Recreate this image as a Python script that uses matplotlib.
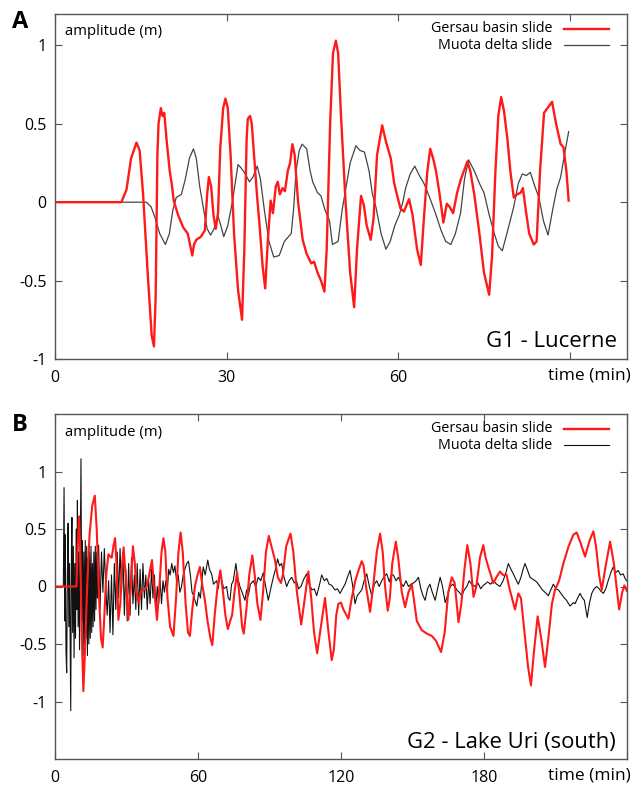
import matplotlib
matplotlib.use("Agg")
import matplotlib.pyplot as plt

plt.rcParams['font.family'] = ['Open Sans', 'DejaVu Sans']

# ---------------- Panel A : G1 - Lucerne ----------------
a_gersau_t = [0, 11.6, 12.5, 13.3, 14.25, 14.8, 15.4, 16.2, 16.9, 17.3, 17.6, 17.9, 18.1, 18.5, 18.8, 19.1,
              19.5, 20.05, 20.4, 20.75, 21.5, 22.4, 23.2, 24.0, 24.3, 24.7, 25.5, 26.2, 26.6, 26.9, 27.3,
              27.7, 28.1, 28.5, 28.9, 29.4, 29.8, 30.2, 30.7, 31.3, 32.0, 32.7, 33.1, 33.5, 33.7, 34.1,
              34.4, 34.8, 35.3, 35.75, 36.3, 36.75, 37.2, 37.7, 38.1, 38.6, 38.95, 39.3, 39.8, 40.2, 40.7,
              41.1, 41.5, 41.9, 42.5, 43.3, 44.0, 44.8, 45.3, 45.9, 46.5, 47.1, 47.5, 48.1, 48.6, 49.1,
              49.5, 50.0, 50.8, 51.6, 52.3, 52.8, 53.5, 54.0, 54.5, 55.2, 55.7, 56.3, 57.2, 57.9, 58.7,
              59.3, 59.9, 60.4, 61.0, 61.9, 62.5, 63.3, 63.95, 64.5, 65.1, 65.6, 66.1, 66.6, 67.2, 67.9,
              68.5, 69.0, 69.6, 70.3, 70.9, 71.5, 72.1, 72.6, 73.3, 74.2, 75.0, 75.9, 76.4, 77.0, 77.5,
              78.0, 78.5, 79.1, 79.6, 80.2, 80.8, 81.4, 81.8, 82.3, 82.9, 83.7, 84.2, 84.8, 85.5, 86.1,
              86.9, 87.6, 88.4, 88.9, 89.4, 89.8]
a_gersau_v = [0, 0, 0.08, 0.28, 0.38, 0.33, 0.05, -0.45, -0.85, -0.92, -0.6, 0.3, 0.5, 0.6, 0.55, 0.57,
              0.4, 0.2, 0.12, 0.01, -0.08, -0.16, -0.2, -0.34, -0.27, -0.24, -0.22, -0.18, 0.05, 0.16, 0.1,
              -0.08, -0.17, -0.07, 0.35, 0.6, 0.66, 0.6, 0.3, -0.2, -0.56, -0.75, -0.3, 0.4, 0.53, 0.55,
              0.5, 0.3, 0.05, -0.14, -0.41, -0.55, -0.25, 0.01, -0.07, 0.1, 0.13, 0.05, 0.09, 0.07, 0.2,
              0.25, 0.37, 0.3, 0.0, -0.24, -0.33, -0.39, -0.38, -0.45, -0.5, -0.57, -0.3, 0.5, 0.95, 1.03,
              0.95, 0.55, 0.0, -0.45, -0.67, -0.3, 0.04, -0.02, -0.15, -0.24, -0.1, 0.3, 0.49, 0.38, 0.28,
              0.12, 0.03, -0.04, -0.06, 0.02, -0.08, -0.3, -0.40, -0.1, 0.2, 0.34, 0.28, 0.2, 0.06, -0.13,
              -0.01, -0.03, -0.07, 0.06, 0.14, 0.2, 0.26, 0.2, 0.05, -0.2, -0.45, -0.59, -0.35, 0.2, 0.55,
              0.67, 0.58, 0.40, 0.2, 0.03, 0.05, 0.06, 0.09, -0.05, -0.2, -0.27, -0.25, 0.2, 0.57, 0.6,
              0.64, 0.5, 0.37, 0.35, 0.2, 0.01]

a_muota_t = [0, 16.0, 16.8, 17.5, 18.3, 19.3, 20.0, 20.6, 21.2, 22.1, 22.8, 23.5, 24.2, 24.7, 25.3, 26.0,
             26.6, 27.2, 27.8, 28.5, 29.0, 29.5, 30.2, 31.0, 31.5, 32.0, 32.5, 33.1, 34.0, 34.6, 35.35,
             35.9, 36.6, 37.4, 38.25, 39.2, 40.1, 41.3, 41.7, 42.15, 42.7, 43.2, 44.0, 44.6, 45.05, 45.9,
             46.5, 47.2, 48.0, 48.5, 49.0, 49.5, 50.2, 50.9, 51.6, 52.6, 53.3, 54.1, 54.9, 55.5, 56.1,
             57.0, 57.85, 58.6, 59.4, 60.2, 60.8, 61.3, 62.1, 62.9, 63.7, 64.5, 65.5, 66.6, 67.5, 68.3,
             69.2, 70.0, 70.9, 71.6, 72.3, 73.3, 74.2, 75.0, 75.9, 76.8, 77.5, 78.2, 79.0, 80.2, 81.0,
             81.7, 82.4, 83.1, 83.9, 84.6, 85.4, 86.2, 87.0, 87.7, 88.4, 89.2, 89.8]
a_muota_v = [0, 0, -0.03, -0.1, -0.2, -0.27, -0.2, -0.05, 0.03, 0.05, 0.15, 0.28, 0.34, 0.28, 0.1, -0.05,
             -0.17, -0.21, -0.17, -0.09, -0.15, -0.22, -0.15, 0.0, 0.12, 0.24, 0.22, 0.19, 0.13, 0.16, 0.23,
             0.15, -0.05, -0.25, -0.35, -0.34, -0.25, -0.2, -0.05, 0.2, 0.33, 0.37, 0.34, 0.2, 0.13, 0.06,
             0.04, -0.05, -0.12, -0.27, -0.26, -0.25, -0.05, 0.1, 0.25, 0.36, 0.33, 0.32, 0.2, 0.05, -0.03,
             -0.2, -0.3, -0.25, -0.15, -0.08, 0.0, 0.09, 0.18, 0.23, 0.17, 0.12, 0.03, -0.08, -0.18, -0.25,
             -0.27, -0.2, -0.07, 0.15, 0.27, 0.2, 0.12, 0.06, -0.08, -0.2, -0.28, -0.31, -0.2, -0.03, 0.12,
             0.18, 0.17, 0.19, 0.1, 0.03, -0.12, -0.21, -0.05, 0.08, 0.16, 0.33, 0.45]

# ---------------- Panel B : G2 - Lake Uri (south) ----------------
b_gersau_t = [0, 9.0, 9.4, 10.1, 10.6, 11.2, 11.9, 12.5, 13.5, 14.5, 15.6, 16.7, 17.5, 18.5, 19.3, 20.0,
              20.6, 21.5, 22.4, 23.2, 23.8, 24.5, 25.2, 25.8, 26.6, 27.4, 28.2, 28.8, 29.6, 30.8, 31.6,
              32.7, 33.5, 34.2, 35.1, 36.0, 37.2, 38.5, 39.5, 40.7, 41.7, 42.8, 43.8, 44.7, 45.5, 46.3,
              47.2, 48.3, 49.7, 50.8, 51.8, 52.7, 53.6, 54.8, 55.8, 56.6, 57.6, 58.7, 59.8, 60.8, 61.9,
              62.9, 64.0, 65.2, 66.0, 67.0, 68.2, 69.4, 70.5, 71.5, 72.5, 73.5, 74.3, 75.3, 76.4, 77.5,
              78.5, 79.2, 80.3, 81.5, 82.8, 83.8, 84.9, 86.2, 87.3, 88.5, 89.7, 90.8, 92.3, 93.5, 94.8,
              95.6, 97.0, 98.8, 100.0, 101.5, 103.3, 104.5, 106.3, 107.5, 108.7, 110.0, 111.2, 113.3,
              114.5, 116.1, 117.0, 118.0, 118.9, 120.0, 121.0, 123.1, 124.5, 126.0, 127.5, 128.7, 129.5,
              130.5, 132.2, 133.5, 135.0, 136.4, 137.5, 138.5, 139.6, 140.5, 141.5, 143.0, 144.0, 145.5,
              146.9, 148.3, 149.7, 150.8, 151.8, 153.9, 156.0, 158.1, 159.8, 162.0, 163.5, 165.0, 166.5,
              167.7, 169.3, 170.5, 171.8, 173.0, 174.3, 175.6, 176.8, 178.3, 179.7, 180.7, 181.8, 183.9,
              185.2, 186.7, 188.0, 189.5, 190.5, 191.6, 193.0, 194.4, 195.5, 197.0, 198.5, 199.7, 200.8,
              202.5, 204.0, 205.6, 207.0, 208.5, 209.8, 211.5, 213.3, 215.5, 217.5, 218.9, 220.5, 222.4,
              224.3, 225.9, 227.0, 228.3, 229.4, 230.8, 232.9, 234.5, 236.7, 238.0, 238.9, 239.5, 240.0]
b_gersau_v = [0, 0, 0.3, 0.61, 0.3, -0.4, -0.91, -0.6, 0.0, 0.45, 0.7, 0.79, 0.5, -0.1, -0.45, -0.53,
              -0.3, 0.1, 0.28, 0.26, 0.25, 0.35, 0.42, 0.2, -0.29, -0.15, 0.2, 0.34, 0.1, -0.29, -0.05,
              0.35, 0.2, -0.05, -0.14, -0.05, -0.03, 0.0, 0.1, 0.23, -0.05, -0.29, 0.0, 0.3, 0.42, 0.3,
              -0.1, -0.35, -0.43, -0.1, 0.3, 0.47, 0.3, -0.15, -0.4, -0.43, -0.2, 0.0, 0.1, 0.17, 0.0,
              -0.12, -0.3, -0.45, -0.51, -0.25, 0.0, 0.14, -0.05, -0.25, -0.37, -0.3, -0.25, -0.05, 0.12, -0.1,
              -0.35, -0.41, -0.2, 0.1, 0.27, 0.1, -0.15, -0.29, -0.05, 0.3, 0.44, 0.35, 0.23, 0.08, 0.03,
              0.1, 0.35, 0.46, 0.3, -0.05, -0.33, -0.15, 0.13, -0.1, -0.4, -0.58, -0.4, -0.1,
              -0.35, -0.64, -0.55, -0.25, -0.15, -0.14, -0.2, -0.28, -0.1, 0.05, 0.15, 0.22, 0.18,
              0.0, -0.22, 0.0, 0.3, 0.46, 0.3, 0.0, -0.21, -0.1, 0.2, 0.39, 0.25, -0.05,
              -0.18, -0.05, 0.02, -0.15, -0.30, -0.38, -0.41, -0.43, -0.47, -0.57, -0.4, -0.05, 0.08,
              0.03, -0.31, -0.15, 0.15, 0.36, 0.2, -0.09, 0.0, 0.25, 0.36, 0.25, 0.17, 0.03,
              0.08, 0.13, 0.1, 0.1, 0.0, -0.09, -0.2, -0.06, -0.1, -0.4, -0.7, -0.86, -0.6,
              -0.26, -0.45, -0.7, -0.45, -0.15, -0.03, 0.05, 0.2, 0.35, 0.45, 0.47, 0.38, 0.26,
              0.4, 0.48, 0.35, 0.1, -0.03, 0.15, 0.39, 0.2, -0.2, -0.05, 0.01, -0.02, -0.04]

b_muota_t = [0, 3.5, 3.8, 4.1, 4.3, 4.6, 4.9, 5.2, 5.5, 5.8, 6.1, 6.4, 6.6, 6.9, 7.1, 7.4, 7.7, 8.0, 8.3,
             8.6, 8.9, 9.2, 9.4, 9.7, 10.0, 10.3, 10.6, 10.9, 11.2, 11.5, 11.8, 12.1, 12.4, 12.7, 13.0,
             13.3, 13.6, 13.9, 14.2, 14.5, 14.8, 15.1, 15.4, 15.7, 16.0, 16.3, 16.6, 16.9, 17.2, 17.5,
             17.8, 18.3, 18.9, 19.5, 20.1, 20.7, 21.3, 21.9, 22.5, 23.1, 23.7, 24.3, 24.9, 25.5, 26.1,
             26.7, 27.3, 27.9, 28.5, 29.1, 29.7, 30.3, 30.9, 31.5, 32.1, 32.7, 33.3, 33.9, 34.5, 35.1,
             35.7, 36.3, 36.9, 37.5, 38.1, 38.7, 39.3, 39.9, 40.5, 41.1, 41.7, 42.3, 42.9, 43.5, 44.1,
             44.7, 45.3, 45.9, 46.5, 47.1, 47.7, 48.3, 49.0, 49.7, 50.3, 51.0, 51.7, 52.4, 53.1, 53.8,
             54.5, 55.3, 56.0, 56.8, 57.5, 58.2, 58.7, 59.5, 60.3, 61.0, 61.6, 62.2, 63.0, 64.1, 64.8,
             65.7, 66.5, 67.8, 68.5, 69.2, 70.0, 70.8, 72.0, 72.7, 73.4, 74.1, 74.8, 75.9, 76.6, 77.6,
             78.5, 79.7, 80.4, 81.1, 82.0, 83.2, 84.2, 85.3, 86.3, 87.4, 88.4, 89.5, 90.5, 91.6, 92.5,
             93.4, 94.2, 95.1, 96.1, 97.2, 98.2, 99.3, 100.4, 101.3, 102.2, 103.2, 104.3, 105.6, 106.7,
             107.8, 108.8, 109.8, 110.8, 111.9, 113.0, 114.0, 115.0, 116.1, 117.5, 118.5, 119.6, 120.6,
             121.7, 122.7, 123.8, 124.8, 125.9, 126.8, 128.7, 129.7, 130.8, 131.9, 132.9, 134.0, 135.0,
             136.0, 137.1, 138.2, 139.2, 140.3, 141.0, 142.0, 143.1, 144.1, 145.2, 146.2, 147.3, 148.3,
             149.4, 150.4, 151.5, 152.5, 153.5, 154.4, 155.3, 156.3, 157.3, 158.3, 159.5, 160.5, 161.6,
             162.6, 163.7, 164.7, 165.8, 167.0, 168.6, 169.6, 170.7, 171.7, 172.8, 173.8, 174.8, 176.2,
             177.5, 178.6, 179.7, 180.4, 181.5, 182.8, 183.9, 185.3, 186.7, 188.0, 189.2, 190.2, 191.3,
             192.3, 193.4, 194.4, 195.5, 196.4, 197.2, 198.3, 199.3, 200.7, 202.1, 203.5, 204.5, 205.6,
             207.0, 208.0, 209.1, 210.2, 211.2, 212.3, 213.3, 214.6, 216.1, 217.5, 218.2, 219.3, 220.3,
             221.3, 222.1, 223.3, 224.2, 225.2, 226.2, 227.3, 228.3, 229.0, 230.1, 231.1, 232.1, 233.2,
             234.2, 235.2, 236.3, 237.3, 238.4, 239.2, 239.8]
b_muota_v = [0, 0, 0.86, -0.3, 0.45, -0.55, -0.75, 0.1, 0.55, -0.35, 0.2, -0.6, -1.08, 0.3, 0.6, -0.4,
             0.35, -0.62, 0.2, -0.45, 0.5, -0.2, 0.75, -0.35, 0.3, -0.55, 0.2, 1.11, -0.3, 0.4, -0.6, 0.3,
             -0.5, 0.4, -0.45, 0.35, -0.6, 0.25, -0.5, 0.3, -0.45, 0.35, -0.4, 0.2, -0.35, 0.3, -0.3,
             0.35, -0.2, 0.3, -0.1, 0.36, -0.2, 0.3, -0.05, 0.33, 0.0, -0.25, 0.05, -0.4, 0.1, -0.42,
             0.2, -0.2, 0.3, -0.1, 0.33, -0.05, 0.3, -0.25, 0.15, -0.3, 0.2, -0.25, 0.25, -0.15, 0.1,
             -0.2, 0.2, -0.25, 0.15, -0.2, 0.2, -0.1, 0.1, -0.2, 0.05, -0.15, 0.15, -0.1, 0.1, -0.2,
             0.0, -0.15, 0.05, -0.15, 0.05, -0.05, 0.05, -0.05, 0.15, 0.1, 0.2, 0.12, 0.18, 0.05, 0.1,
             -0.05, 0.0, 0.1, 0.15, 0.2, 0.22, 0.1, -0.05, -0.08, -0.12, -0.17, -0.05, -0.1, 0.05, 0.17,
             0.1, 0.23, 0.15, 0.11, 0.02, 0.05, -0.02, 0.11, 0.05, -0.02, 0.0, -0.1, -0.12, 0.02, 0.05,
             0.2, 0.08, 0.0, -0.05, -0.12, -0.03, -0.08, 0.02, 0.05, 0.0, 0.08, 0.05, 0.12, 0.0, -0.12,
             -0.02, 0.08, 0.15, 0.24, 0.18, 0.2, 0.08, 0.0, 0.05, 0.08, 0.03, 0.05, -0.02, 0.0, 0.06,
             0.11, 0.02, -0.03, -0.02, -0.08, 0.0, 0.1, 0.05, 0.07, 0.02, 0.01, -0.03, -0.02, -0.06,
             -0.02, 0.02, 0.08, 0.14, 0.02, -0.15, -0.08, -0.03, 0.05, 0.11, 0.0, -0.08, 0.02, 0.05,
             0.0, 0.05, 0.09, 0.11, 0.04, 0.1, 0.1, 0.05, 0.08, 0.03, 0.0, 0.05, 0.0, 0.02, 0.03, 0.05,
             0.08, -0.02, -0.08, -0.12, -0.02, 0.02, -0.05, -0.12, -0.02, 0.08, 0.0, -0.14, -0.08, 0.0,
             0.02, -0.03, -0.05, -0.08, -0.03, 0.0, 0.05, 0.02, 0.0, 0.03, -0.02, 0.01, 0.02, 0.04,
             0.02, 0.05, 0.02, 0.0, 0.05, 0.12, 0.2, 0.15, 0.11, 0.06, 0.02, 0.08, 0.15, 0.2, 0.14,
             0.08, 0.06, 0.04, 0.0, -0.03, -0.05, -0.08, -0.03, 0.02, -0.02, -0.03, -0.06, -0.09, -0.12,
             -0.17, -0.14, -0.15, -0.1, -0.06, -0.1, -0.12, -0.27, -0.15, -0.06, -0.02, 0.0, -0.02,
             -0.04, -0.06, -0.02, 0.05, 0.12, 0.17, 0.12, 0.14, 0.1, 0.11, 0.07, 0.05]

labels = ["Gersau basin slide", "Muota delta slide"]
W, H = 635, 787
fig = plt.figure(figsize=(W / 100, H / 100), dpi=100)


def make_axes(left, top, right, bottom):
    return fig.add_axes([left / W, 1 - bottom / H, (right - left) / W, (bottom - top) / H])


def style(ax, xticks, yticks, ylabels):
    for s in ax.spines.values():
        s.set_color('#555555')
        s.set_linewidth(1.0)
    ax.set_xticks(xticks)
    ax.set_yticks(yticks)
    ax.set_yticklabels(ylabels)
    ax.tick_params(direction='in', top=True, right=True, length=5, width=0.8, color='#555555',
                   labelsize=11.5, labelcolor='black')
    ax.tick_params(axis='x', pad=8)
    ax.tick_params(axis='y', pad=6)


def legend(ax, black_color, black_lw):
    ax.text(0.869, 0.957, labels[0], transform=ax.transAxes, ha='right', va='center', fontsize=10.3)
    ax.text(0.869, 0.910, labels[1], transform=ax.transAxes, ha='right', va='center', fontsize=10.3)
    ax.plot([0.890, 0.969], [0.957, 0.957], transform=ax.transAxes, color='#ff1a1a', lw=1.7)
    ax.plot([0.890, 0.969], [0.910, 0.910], transform=ax.transAxes, color=black_color, lw=black_lw)


# Panel A
axA = make_axes(55, 14, 627, 359)
axA.plot(a_muota_t, a_muota_v, color='#444444', lw=0.9)
axA.plot(a_gersau_t, a_gersau_v, color='#ff1a1a', lw=1.7)
axA.set_xlim(0, 100)
axA.set_ylim(-1, 1.2)
style(axA, [0, 30, 60, 90], [-1, -0.5, 0, 0.5, 1], ['-1', '-0.5', '0', '0.5', '1'])
axA.set_xticklabels(['0', '30', '60', ''])
legend(axA, '#444444', 0.9)
axA.text(0.0175, 0.948, "amplitude (m)", transform=axA.transAxes, ha='left', va='center', fontsize=10.7)
axA.text(0.983, 0.035, "G1 - Lucerne", transform=axA.transAxes, ha='right', va='baseline', fontsize=16)
fig.text(631 / W, 1 - 376 / H, "time (min)", ha='right', va='center', fontsize=12.5)
fig.text(12 / W, 1 - 22 / H, "A", ha='left', va='center', fontsize=17, fontweight='bold')

# Panel B
axB = make_axes(55, 414, 627, 759)
axB.plot(b_muota_t, b_muota_v, color='#111111', lw=0.8)
axB.plot(b_gersau_t, b_gersau_v, color='#ff1a1a', lw=1.5)
axB.set_xlim(0, 240)
axB.set_ylim(-1.5, 1.5)
style(axB, [0, 60, 120, 180, 240], [-1, -0.5, 0, 0.5, 1], ['-1', '-0.5', '0', '0.5', '1'])
axB.set_xticklabels(['0', '60', '120', '180', ''])
legend(axB, '#111111', 0.8)
axB.text(0.0175, 0.945, "amplitude (m)", transform=axB.transAxes, ha='left', va='center', fontsize=10.7)
axB.text(0.980, 0.032, "G2 - Lake Uri (south)", transform=axB.transAxes, ha='right', va='baseline',
         fontsize=15.8)
fig.text(631 / W, 1 - 775 / H, "time (min)", ha='right', va='center', fontsize=12.5)
fig.text(12 / W, 1 - 425 / H, "B", ha='left', va='center', fontsize=17, fontweight='bold')

fig.savefig("out.png", dpi=100)
